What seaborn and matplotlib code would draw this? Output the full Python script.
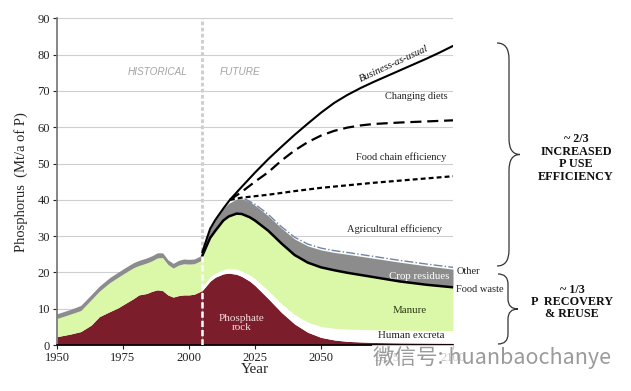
import numpy as np
import matplotlib
matplotlib.use("Agg")
import matplotlib.pyplot as plt
import seaborn as sns
from matplotlib.path import Path
from matplotlib.patches import PathPatch

SPLIT_YEAR = 2005

# historical stack (1950-2005)
hist_years = [1950, 1955, 1959, 1963, 1966, 1970, 1973, 1976, 1979, 1981, 1984,
              1986, 1988, 1990, 1992, 1994, 1996, 1998, 2000, 2002, 2005]
hist_rock = [2.3, 3.0, 3.7, 5.5, 7.8, 9.2, 10.2, 11.5, 12.8, 13.8, 14.2,
             14.8, 15.2, 15.0, 13.8, 13.2, 13.6, 13.8, 13.8, 14.0, 15.0]
hist_total = [7.3, 8.5, 9.5, 12.5, 14.8, 17.2, 18.6, 20.0, 21.3, 21.9, 22.6,
              23.2, 24.0, 24.1, 22.2, 21.2, 22.0, 22.4, 22.3, 22.4, 23.4]
hist_grey = [8.6, 9.8, 10.9, 13.9, 16.2, 18.6, 20.0, 21.4, 22.7, 23.3, 24.0,
             24.6, 25.4, 25.4, 23.5, 22.5, 23.3, 23.7, 23.6, 23.7, 24.8]

# future stack (2005-2100)
fut_years = [2005, 2008, 2010, 2013, 2015, 2018, 2020, 2023, 2025, 2030, 2035,
             2040, 2045, 2050, 2055, 2060, 2070, 2080, 2090, 2100]
fut_rock = [15.0, 17.6, 18.7, 19.6, 19.8, 19.5, 18.9, 17.6, 16.4, 12.8, 9.0,
            5.8, 3.5, 2.1, 1.4, 1.0, 0.7, 0.6, 0.55, 0.5]
fut_excreta = [16.0, 18.8, 19.9, 20.8, 21.1, 20.9, 20.4, 19.3, 18.3, 15.0, 11.4,
               8.4, 6.3, 5.1, 4.6, 4.4, 4.2, 4.1, 4.0, 4.0]
fut_food_waste = [24.5, 29.5, 31.5, 34.3, 35.4, 36.2, 36.1, 35.2, 34.3, 31.5, 28.0,
                  24.8, 22.7, 21.4, 20.6, 19.9, 18.7, 17.5, 16.6, 15.9]
fut_crop = [25.5, 32.0, 34.5, 37.6, 39.0, 40.2, 40.3, 39.5, 38.5, 35.6, 32.2,
            29.2, 27.3, 26.2, 25.5, 25.0, 23.9, 22.8, 21.8, 20.9]

other_years = [2021, 2025, 2030, 2035, 2040, 2045, 2050, 2055, 2060, 2070, 2080, 2090, 2100]
other_top = [40.3, 38.8, 36.0, 32.6, 29.7, 27.8, 26.7, 26.0, 25.5, 24.4, 23.3, 22.3, 21.4]

# demand scenarios
bau_years = [2005, 2008, 2010, 2013, 2015.5, 2020, 2025, 2030, 2035, 2040, 2045,
             2050, 2055, 2060, 2065, 2070, 2075, 2080, 2085, 2090, 2095, 2100]
bau = [25.5, 32.0, 34.5, 37.6, 40.0, 43.6, 47.5, 51.2, 54.6, 57.9, 61.0,
       64.0, 66.7, 68.9, 70.8, 72.5, 74.1, 75.7, 77.3, 78.9, 80.6, 82.4]
diet_years = [2015.5, 2020, 2025, 2030, 2035, 2040, 2045, 2050, 2055, 2060, 2065,
              2070, 2080, 2090, 2100]
diet = [40.0, 42.2, 45.0, 47.6, 50.8, 53.6, 55.9, 57.7, 59.0, 59.9, 60.5,
        60.9, 61.3, 61.6, 61.9]
chain_years = [2015.5, 2020, 2025, 2030, 2040, 2050, 2060, 2070, 2080, 2090, 2100]
chain = [40.0, 40.6, 41.0, 41.4, 42.4, 43.3, 44.0, 44.7, 45.3, 45.9, 46.5]

MAROON = "#7b1d2b"
GREEN = "#dbf7a8"
GREY = "#8c8c8c"

sns.set_theme(style="white")
plt.rcParams["font.family"] = ["Liberation Serif", "DejaVu Serif"]

fig = plt.figure(figsize=(6.31, 3.91), dpi=100)
ax = fig.add_axes([0.0903, 0.1176, 0.6276, 0.8355])

# historical areas
ax.fill_between(hist_years, 0, hist_rock, color=MAROON, lw=0)
ax.fill_between(hist_years, hist_rock, hist_total, color=GREEN, lw=0)
ax.fill_between(hist_years, hist_total, hist_grey, color=GREY, lw=0)

# future areas
ax.fill_between(fut_years, 0, fut_rock, color=MAROON, lw=0)
ax.fill_between(fut_years, fut_rock, fut_excreta, color="white", lw=0)
ax.fill_between(fut_years, fut_excreta, fut_food_waste, color=GREEN, lw=0)
ax.fill_between(fut_years, fut_food_waste, fut_crop, color=GREY, lw=0)

sns.lineplot(x=fut_years, y=fut_food_waste, ax=ax, color="black", lw=1.8)
sns.lineplot(x=other_years, y=other_top, ax=ax, color="#6f86a6", lw=1.0, linestyle="-.")
sns.lineplot(x=bau_years, y=bau, ax=ax, color="black", lw=1.5)
sns.lineplot(x=diet_years, y=diet, ax=ax, color="black", lw=1.6, linestyle=(0, (5, 2.6)))
sns.lineplot(x=chain_years, y=chain, ax=ax, color="black", lw=1.6, linestyle=(0, (2.2, 1.4)))

# historical / future split
ax.axvline(SPLIT_YEAR, ymin=0.27, color="#cfcfcf", lw=2.2, linestyle=(0, (1.2, 0.8)), zorder=1)
ax.vlines(SPLIT_YEAR, 0, 24.5, color="white", lw=1.8, linestyle=(0, (2.5, 1.2)), zorder=3)

ax.set_xlim(1950, 2100)
ax.set_ylim(0, 90)
ax.set_xticks(range(1950, 2101, 25))
ax.set_yticks(range(0, 91, 10))
ax.yaxis.grid(True, color="#cfcfcf", lw=0.8)
ax.xaxis.grid(False)
ax.set_axisbelow(True)
for s in ["top", "right"]:
    ax.spines[s].set_visible(False)
ax.spines["left"].set_color("#777777")
ax.spines["bottom"].set_color("black")
ax.spines["bottom"].set_linewidth(1.2)
ax.tick_params(axis="both", labelsize=9, direction="out", length=3, width=0.8,
               colors="#222222", pad=2, bottom=True, left=True)

ax.set_xlabel("Year", fontsize=11)
ax.set_ylabel("Phosphorus  (Mt/a of P)", fontsize=10.5)
ax.xaxis.set_label_coords(0.5, -0.055)
ax.yaxis.set_label_coords(-0.073, 0.5)

# section labels
sans_it = dict(family=["Liberation Sans", "DejaVu Sans"], style="italic",
               color="#a3a3a3", fontsize=7.2)
ax.text(1988.3, 75.1, "HISTORICAL", ha="center", va="center", **sans_it)
ax.text(2019.3, 75.1, "FUTURE", ha="center", va="center", **sans_it)

ax.text(2077.5, 77.6, "Business-as-usual", ha="center", va="center", fontsize=7.5,
        style="italic", rotation=25, color="#111111")
ax.text(2097.8, 68.5, "Changing diets", ha="right", va="center", fontsize=7.5, color="#222222")
ax.text(2097.6, 51.8, "Food chain efficiency", ha="right", va="center", fontsize=7.5, color="#222222")
ax.text(2096.0, 31.8, "Agricultural efficiency", ha="right", va="center", fontsize=7.5, color="#222222")
ax.text(2098.5, 18.8, "Crop residues", ha="right", va="center", fontsize=7.8, color="white")
ax.text(2083.7, 9.6, "Manure", ha="center", va="center", fontsize=7.8, color="#2d3a12")
ax.text(2084.3, 2.5, "Human excreta", ha="center", va="center", fontsize=7.8, color="#222222")
ax.text(2020.0, 6.0, "Phosphate\nrock", ha="center", va="center", fontsize=8,
        color="#f4dede", linespacing=1.0)
ax.text(2101.2, 20.2, "Other", ha="left", va="center", fontsize=7.5, color="#222222", clip_on=False)
ax.text(2101.2, 15.2, "Food waste", ha="left", va="center", fontsize=7.5, color="#222222", clip_on=False)


def brace(x0, xs, xt, ytop, ybot, r):
    ymid = (ytop + ybot) / 2
    pts = [(x0, ytop), (xs, ytop), (xs, ytop + r), (xs, ymid - r), (xs, ymid), (xt, ymid),
           (xs, ymid), (xs, ymid + r), (xs, ybot - r), (xs, ybot), (x0, ybot)]
    codes = [Path.MOVETO, Path.CURVE3, Path.CURVE3, Path.LINETO, Path.CURVE3, Path.CURVE3,
             Path.CURVE3, Path.CURVE3, Path.LINETO, Path.CURVE3, Path.CURVE3]
    verts = [(px / 631, 1 - py / 391) for px, py in pts]
    fig.add_artist(PathPatch(Path(verts, codes), fill=False, lw=0.9,
                             edgecolor="#333333", transform=fig.transFigure))


brace(497, 509, 520, 43, 266, 16)
brace(498, 508, 518, 274, 344, 10)

fig.text(576 / 631, 1 - 158 / 391, "~ 2/3\nINCREASED\nP USE\nEFFICIENCY", ha="center",
         va="center", fontsize=8.7, fontweight="bold", linespacing=1.05, color="#111111")
fig.text(572 / 631, 1 - 302 / 391, "~ 1/3\nP  RECOVERY\n& REUSE", ha="center",
         va="center", fontsize=8.7, fontweight="bold", linespacing=1.05, color="#111111")

# watermark
fig.text(611 / 631, 1 - 358 / 391, "微信号: huanbaochanye", ha="right", va="center",
         fontsize=15.5, color="#9a9a9a", family=["Noto Sans CJK SC", "DejaVu Sans"],
         bbox=dict(facecolor="white", edgecolor="none", alpha=0.75, pad=1))

fig.savefig("out.png", dpi=100)
